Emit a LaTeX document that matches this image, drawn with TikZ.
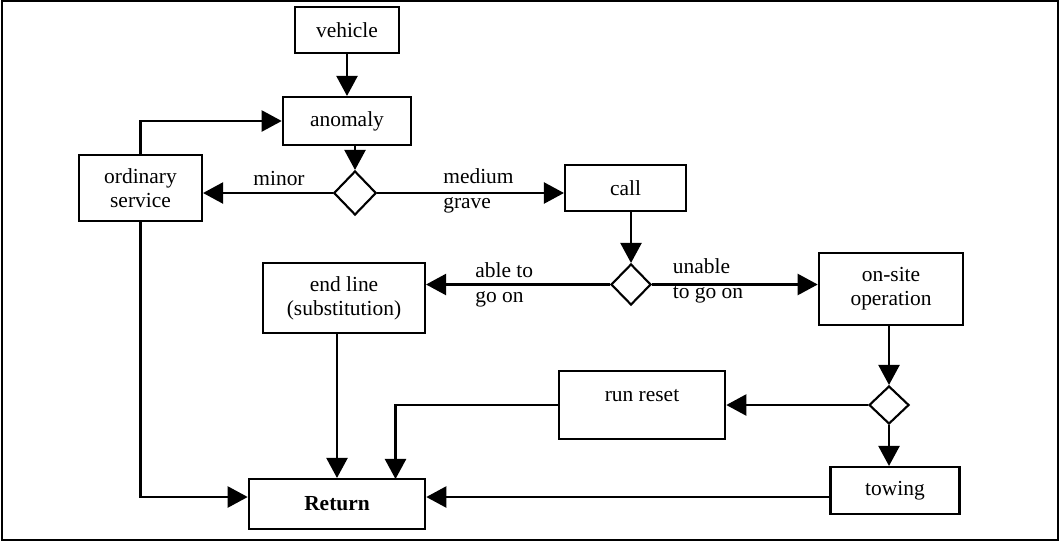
\documentclass[tikz,border=0pt]{standalone}
\usepackage{fontspec}
\setmainfont{Liberation Serif}
\usetikzlibrary{arrows.meta,shapes.geometric}

\begin{document}
\begin{tikzpicture}[
  box/.style={draw, line width=1.2pt, inner sep=0pt, align=center, font=\fontsize{12.2}{13.7}\selectfont},
  choice/.style={draw, diamond, line width=1.2pt, inner sep=0pt},
  lbl/.style={align=left, inner sep=0pt, font=\fontsize{12.2}{14.3}\selectfont},
  flow/.style={line width=1.2pt, -{Triangle[length=11.4pt,width=12pt]}},
  link/.style={line width=1.2pt}
]
  \useasboundingbox (0,0) rectangle (21.2,10.84);
  \draw[line width=1.2pt] (0.04,0.04) rectangle (21.16,10.82);

  % top of the chain
  \node[box, minimum width=2.07cm, minimum height=0.92cm] (vehicle) at (6.94,10.24) {vehicle};
  \node[box, minimum width=2.57cm, minimum height=0.96cm] (anomaly) at (6.94,8.42) {anomaly};
  \node[choice, minimum width=0.85cm, minimum height=0.88cm] (sev) at (7.10,6.98) {};
  \node[box, minimum width=2.46cm, minimum height=1.32cm] (ordinary) at (2.81,7.08) {ordinary\\service};
  \node[box, minimum width=2.42cm, minimum height=0.92cm] (call) at (12.51,7.08) {call};

  % middle row
  \node[choice, minimum width=0.80cm, minimum height=0.82cm] (goon) at (12.62,5.15) {};
  \node[box, minimum width=3.24cm, minimum height=1.40cm] (endline) at (6.88,4.88) {end line\\(substitution)};
  \node[box, minimum width=2.89cm, minimum height=1.44cm] (onsite) at (17.82,5.06) {on-site\\operation};

  % bottom part
  \node[choice, minimum width=0.80cm, minimum height=0.76cm] (fix) at (17.78,2.74) {};
  \node[box, minimum width=3.33cm, minimum height=1.36cm, text height=0.3cm, text depth=0.44cm] (runreset) at (12.84,2.74) {run reset};
  \node[box, minimum width=2.58cm, minimum height=0.94cm] (towing) at (17.90,1.03) {towing};
  \node[box, minimum width=3.53cm, minimum height=1.00cm] (return) at (6.74,0.76) {\textbf{Return}};

  % branch labels
  \node[lbl] (lblminor) at (5.58,7.26) {minor};
  \node[lbl, anchor=west] (lblgrave) at (8.86,7.03) {medium\\grave};
  \node[lbl, anchor=west] (lblable) at (9.50,5.15) {able to\\go on};
  \node[lbl, anchor=west] (lblunable) at (13.45,5.22) {unable\\to go on};

  % free ends on the return box
  \coordinate (rrin) at (7.91,1.26);
  \coordinate (towout) at (16.62,0.90);

  \draw[flow] (vehicle) -- (anomaly);
  \draw[flow] (anomaly.south -| sev) -- (sev.north);
  \draw[flow] (ordinary.north) |- (anomaly.west);
  \draw[flow] (sev.west) -- (sev.west -| ordinary.east);
  \draw[flow] (sev.east) -- (sev.east -| call.west);
  \draw[flow] (call.south -| goon) -- (goon.north);
  \draw[flow] (goon.west) -- (goon.west -| endline.east);
  \draw[flow] (goon.east) -- (goon.east -| onsite.west);
  \draw[flow] (onsite.south -| fix) -- (fix.north);
  \draw[flow] (fix.west) -- (fix.west -| runreset.east);
  \draw[flow] (fix.south) -- (fix.south |- towing.north);
  \draw[flow] (endline.south -| return) -- (return.north);
  \draw[flow] (runreset.west) -| (rrin);
  \draw[flow] (towout) -- (towout -| return.east);
  \draw[flow] (ordinary.south) |- (towout -| return.west);
\end{tikzpicture}
\end{document}
